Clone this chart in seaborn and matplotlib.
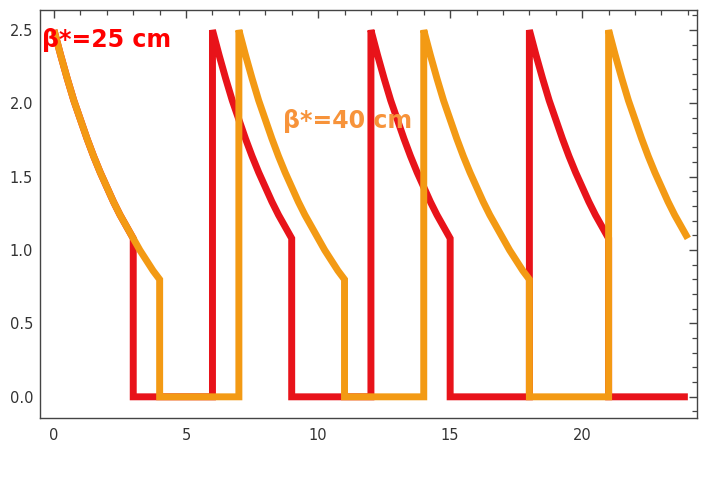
import matplotlib
matplotlib.use("Agg")
import matplotlib.pyplot as plt
from matplotlib.ticker import MultipleLocator
import pandas as pd
import seaborn as sns

red_fills = [0, 6, 12, 18]
orange_fills = [0, 7, 14, 21]
sample_step = 0.25
red_decay = [2.50, 2.33, 2.17, 2.02, 1.89, 1.76, 1.64, 1.53, 1.43,
             1.33, 1.24, 1.16, 1.08]
orange_decay = [2.50, 2.33, 2.17, 2.02, 1.89, 1.76, 1.64, 1.53, 1.43,
                1.33, 1.24, 1.16, 1.08, 1.00, 0.93, 0.86, 0.80]
t_end = 24

labels = ["β*=25 cm", "β*=40 cm"]
line_colors = ["#E8131A", "#F39A14"]
text_colors = ["#FF0000", "#F7933A"]


def build_cycle(fills, decay, name):
    t, v = [], []
    for k, t0 in enumerate(fills):
        if k > 0:
            t.append(t0)
            v.append(0.0)
        last = t0
        for i, val in enumerate(decay):
            ti = t0 + i * sample_step
            if ti > t_end:
                break
            t.append(ti)
            v.append(val)
            last = ti
        if last < t_end:
            t.append(last)
            v.append(0.0)
    if t[-1] < t_end:
        t.append(t_end)
        v.append(0.0)
    return pd.DataFrame({"time": t, "lumi": v, "beta": name})


df = pd.concat([
    build_cycle(red_fills, red_decay, labels[0]),
    build_cycle(orange_fills, orange_decay, labels[1]),
], ignore_index=True)

sns.set_theme(style="white")
plt.rcParams["font.family"] = ["DejaVu Sans"]

fig = plt.figure(figsize=(7.02, 4.83), dpi=100)
ax = fig.add_axes([0.057, 0.135, 0.936, 0.844])

sns.lineplot(
    data=df, x="time", y="lumi", hue="beta",
    hue_order=labels, palette=line_colors,
    sort=False, estimator=None, linewidth=5,
    legend=False, ax=ax,
)
for ln in ax.get_lines():
    ln.set_solid_joinstyle("miter")
    ln.set_solid_capstyle("butt")

ax.set_xlim(-0.53, 24.35)
ax.set_ylim(-0.143, 2.636)
ax.set_xlabel("")
ax.set_ylabel("")
ax.xaxis.set_major_locator(MultipleLocator(5))
ax.xaxis.set_minor_locator(MultipleLocator(1))
ax.yaxis.set_major_locator(MultipleLocator(0.5))
ax.yaxis.set_minor_locator(MultipleLocator(0.1))
ax.yaxis.set_major_formatter(plt.FuncFormatter(lambda v, p: f"{v:.1f}"))

for sp in ax.spines.values():
    sp.set_color("#444444")
    sp.set_linewidth(1.0)
ax.tick_params(which="both", direction="in", top=True, right=True,
               colors="#444444", labelcolor="#333333", labelsize=10.5)
ax.tick_params(which="major", length=6, width=1)
ax.tick_params(which="minor", length=3.5, width=0.9)
ax.tick_params(axis="x", pad=7)
ax.tick_params(axis="y", pad=5)

ax.text(-0.45, 2.384, labels[0], color=text_colors[0], fontsize=17,
        fontweight="bold", family="DejaVu Sans", va="baseline")
ax.text(8.67, 1.83, labels[1], color=text_colors[1], fontsize=17,
        fontweight="bold", family="DejaVu Sans", va="baseline")

fig.savefig("out.png", dpi=100)
